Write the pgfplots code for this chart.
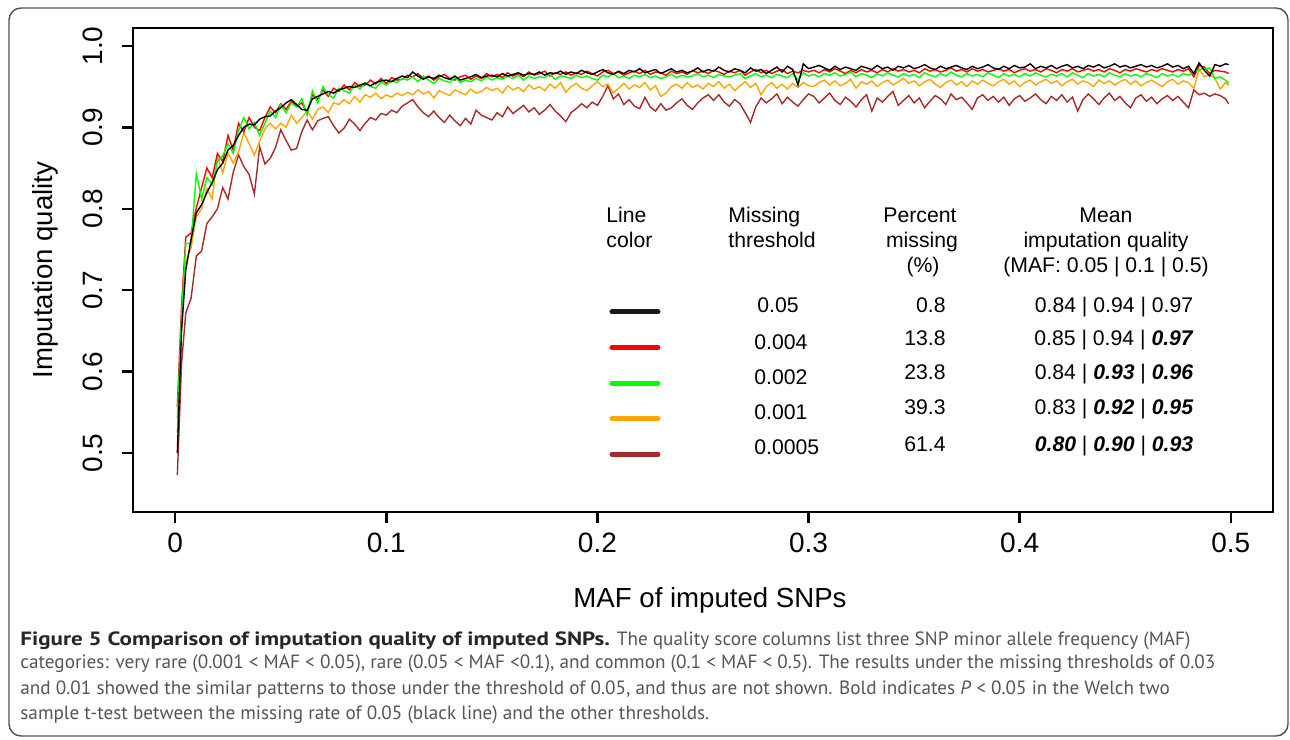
\documentclass[border=0pt]{standalone}
\usepackage{pgfplots}
\pgfplotsset{compat=1.18}
\usepackage{pgfplotstable}
\usepackage{fontspec}
\setmainfont{Liberation Sans}
\newfontfamily\capfont{PT Sans}
\newfontfamily\capbf[FakeStretch=1.2]{PT Sans}

\definecolor{Rred}{RGB}{255,0,0}
\definecolor{Rgreen}{RGB}{0,255,0}
\definecolor{Rorange}{RGB}{255,165,0}
\definecolor{Rbrown}{RGB}{165,42,42}
\definecolor{capgray}{RGB}{85,85,85}
\definecolor{framegray}{RGB}{80,80,80}

% imputation quality by MAF, one column per missing threshold
% B = 0.05, R = 0.004, G = 0.002, O = 0.001, Br = 0.0005
\pgfplotstableread{
x      B     R     G     O     Br
0.001  0.500 0.557 0.543 0.525 0.473
0.003  0.650 0.680 0.668 0.655 0.610
0.005  0.725 0.765 0.757 0.735 0.672
0.0075 0.762 0.770 0.758 0.752 0.690
0.010  0.795 0.801 0.843 0.790 0.742
0.0125 0.805 0.826 0.812 0.800 0.748
0.015  0.820 0.850 0.838 0.825 0.782
0.0175 0.832 0.838 0.830 0.812 0.790
0.020  0.848 0.868 0.858 0.864 0.800
0.0225 0.856 0.858 0.865 0.844 0.826
0.025  0.872 0.890 0.880 0.868 0.812
0.0275 0.878 0.872 0.868 0.856 0.845
0.030  0.890 0.905 0.896 0.870 0.866
0.0325 0.900 0.894 0.912 0.893 0.852
0.035  0.904 0.912 0.898 0.880 0.842
0.0375 0.903 0.900 0.906 0.866 0.818
0.040  0.910 0.896 0.890 0.883 0.876
0.0425 0.913 0.912 0.905 0.898 0.855
0.045  0.914 0.925 0.920 0.905 0.862
0.0475 0.920 0.918 0.912 0.898 0.875
0.050  0.924 0.929 0.928 0.905 0.897
0.0525 0.930 0.922 0.918 0.900 0.884
0.055  0.934 0.932 0.930 0.915 0.872
0.0575 0.928 0.926 0.925 0.905 0.874
0.060  0.922 0.930 0.935 0.912 0.895
0.0625 0.921 0.917 0.915 0.920 0.909
0.065  0.935 0.940 0.945 0.910 0.897
0.0675 0.938 0.934 0.930 0.922 0.908
0.070  0.941 0.946 0.950 0.925 0.911
0.0725 0.944 0.938 0.940 0.918 0.913
0.075  0.942 0.948 0.936 0.930 0.902
0.0775 0.946 0.944 0.948 0.928 0.893
0.080  0.948 0.952 0.945 0.934 0.899
0.0825 0.950 0.946 0.942 0.929 0.910
0.085  0.949 0.955 0.952 0.938 0.904
0.0875 0.952 0.950 0.947 0.931 0.896
0.090  0.954 0.952 0.955 0.940 0.905
0.0925 0.951 0.958 0.950 0.937 0.912
0.095  0.955 0.953 0.948 0.942 0.909
0.0975 0.957 0.960 0.956 0.935 0.917
0.100  0.958 0.954 0.952 0.940 0.915
0.1025 0.956 0.961 0.957 0.937 0.921
0.105  0.960 0.958 0.955 0.942 0.918
0.1075 0.963 0.959 0.960 0.939 0.926
0.110  0.961 0.964 0.958 0.943 0.930
0.1125 0.968 0.962 0.962 0.940 0.934
0.115  0.963 0.966 0.956 0.946 0.925
0.1175 0.959 0.960 0.963 0.941 0.918
0.120  0.962 0.963 0.958 0.944 0.913
0.1225 0.960 0.958 0.954 0.936 0.920
0.125  0.964 0.962 0.960 0.945 0.912
0.1275 0.961 0.965 0.957 0.942 0.906
0.130  0.959 0.960 0.955 0.939 0.915
0.1325 0.963 0.958 0.961 0.946 0.908
0.135  0.958 0.962 0.955 0.943 0.902
0.1375 0.960 0.964 0.958 0.940 0.911
0.140  0.962 0.959 0.956 0.947 0.904
0.1425 0.965 0.963 0.960 0.942 0.921
0.145  0.961 0.960 0.957 0.944 0.915
0.1475 0.963 0.966 0.962 0.949 0.912
0.150  0.964 0.962 0.958 0.945 0.909
0.1525 0.962 0.965 0.961 0.948 0.918
0.155  0.966 0.961 0.959 0.942 0.913
0.1575 0.963 0.967 0.963 0.951 0.925
0.160  0.965 0.963 0.960 0.946 0.917
0.1625 0.967 0.966 0.964 0.949 0.922
0.165  0.964 0.962 0.958 0.944 0.927
0.1675 0.966 0.968 0.963 0.952 0.919
0.170  0.965 0.964 0.960 0.947 0.924
0.1725 0.968 0.966 0.962 0.950 0.916
0.175  0.964 0.969 0.961 0.945 0.921
0.1775 0.967 0.963 0.965 0.953 0.928
0.180  0.966 0.967 0.959 0.948 0.920
0.1825 0.969 0.965 0.963 0.955 0.914
0.185  0.965 0.968 0.962 0.943 0.907
0.1875 0.968 0.964 0.960 0.950 0.918
0.190  0.966 0.967 0.964 0.954 0.923
0.1925 0.970 0.965 0.961 0.948 0.929
0.195  0.967 0.969 0.963 0.945 0.924
0.1975 0.965 0.966 0.960 0.951 0.931
0.200  0.968 0.963 0.958 0.956 0.927
0.2025 0.971 0.968 0.964 0.950 0.938
0.205  0.967 0.970 0.962 0.953 0.951
0.2075 0.965 0.966 0.966 0.942 0.935
0.210  0.969 0.968 0.961 0.948 0.941
0.2125 0.966 0.964 0.963 0.954 0.928
0.215  0.970 0.967 0.960 0.947 0.934
0.2175 0.968 0.969 0.964 0.952 0.926
0.220  0.972 0.966 0.962 0.949 0.923
0.2225 0.967 0.970 0.965 0.955 0.937
0.225  0.969 0.965 0.961 0.946 0.925
0.2275 0.971 0.968 0.963 0.951 0.920
0.230  0.966 0.967 0.960 0.938 0.929
0.2325 0.969 0.964 0.962 0.942 0.921
0.235  0.972 0.969 0.965 0.950 0.924
0.2375 0.968 0.966 0.961 0.953 0.930
0.240  0.970 0.968 0.964 0.948 0.935
0.2425 0.967 0.965 0.962 0.955 0.927
0.245  0.969 0.970 0.963 0.949 0.922
0.2475 0.973 0.967 0.966 0.952 0.930
0.250  0.968 0.969 0.962 0.947 0.936
0.2525 0.971 0.966 0.964 0.954 0.940
0.255  0.969 0.970 0.961 0.950 0.933
0.2575 0.974 0.968 0.965 0.956 0.940
0.260  0.970 0.965 0.963 0.948 0.931
0.2625 0.968 0.969 0.962 0.953 0.926
0.265  0.972 0.967 0.964 0.945 0.934
0.2675 0.970 0.970 0.966 0.951 0.929
0.270  0.967 0.964 0.960 0.956 0.918
0.2725 0.973 0.968 0.963 0.949 0.906
0.275  0.969 0.971 0.966 0.954 0.925
0.2775 0.971 0.967 0.962 0.940 0.936
0.280  0.966 0.970 0.964 0.950 0.930
0.2825 0.970 0.966 0.961 0.955 0.935
0.285  0.974 0.969 0.965 0.948 0.941
0.2875 0.968 0.971 0.963 0.953 0.929
0.290  0.975 0.966 0.961 0.947 0.937
0.2925 0.971 0.969 0.966 0.954 0.931
0.295  0.952 0.967 0.958 0.949 0.926
0.2975 0.978 0.970 0.967 0.955 0.934
0.300  0.972 0.968 0.963 0.951 0.941
0.3025 0.974 0.970 0.965 0.950 0.938
0.305  0.976 0.967 0.962 0.955 0.930
0.3075 0.973 0.971 0.966 0.958 0.936
0.310  0.970 0.968 0.964 0.952 0.942
0.3125 0.975 0.972 0.967 0.957 0.933
0.315  0.971 0.969 0.963 0.951 0.928
0.3175 0.974 0.966 0.965 0.954 0.937
0.320  0.972 0.970 0.968 0.959 0.932
0.3225 0.970 0.967 0.962 0.948 0.925
0.325  0.975 0.971 0.966 0.956 0.934
0.3275 0.973 0.968 0.964 0.953 0.940
0.330  0.971 0.970 0.961 0.957 0.920
0.3325 0.976 0.967 0.966 0.950 0.936
0.335  0.972 0.971 0.963 0.955 0.931
0.3375 0.974 0.968 0.967 0.958 0.938
0.340  0.970 0.972 0.964 0.952 0.944
0.3425 0.975 0.969 0.962 0.956 0.927
0.345  0.973 0.971 0.966 0.960 0.933
0.3475 0.976 0.968 0.963 0.954 0.939
0.350  0.972 0.970 0.965 0.957 0.930
0.3525 0.974 0.967 0.961 0.951 0.936
0.355  0.977 0.972 0.967 0.956 0.924
0.3575 0.973 0.969 0.964 0.959 0.932
0.360  0.971 0.971 0.962 0.953 0.939
0.3625 0.975 0.968 0.966 0.949 0.935
0.365  0.972 0.970 0.963 0.955 0.928
0.3675 0.974 0.973 0.968 0.958 0.941
0.370  0.976 0.969 0.964 0.952 0.934
0.3725 0.973 0.971 0.962 0.956 0.937
0.375  0.971 0.968 0.966 0.950 0.930
0.3775 0.975 0.972 0.963 0.957 0.922
0.380  0.972 0.969 0.965 0.953 0.936
0.3825 0.974 0.971 0.962 0.958 0.940
0.385  0.977 0.968 0.967 0.954 0.933
0.3875 0.973 0.970 0.964 0.951 0.938
0.390  0.971 0.972 0.961 0.956 0.931
0.3925 0.975 0.969 0.966 0.959 0.937
0.395  0.972 0.971 0.963 0.953 0.927
0.3975 0.976 0.967 0.965 0.957 0.935
0.400  0.973 0.970 0.962 0.950 0.939
0.4025 0.974 0.972 0.966 0.955 0.932
0.405  0.978 0.969 0.963 0.958 0.936
0.4075 0.972 0.971 0.967 0.952 0.941
0.410  0.975 0.968 0.964 0.956 0.934
0.4125 0.973 0.972 0.962 0.959 0.929
0.415  0.976 0.970 0.965 0.954 0.938
0.4175 0.972 0.967 0.963 0.957 0.933
0.420  0.975 0.971 0.966 0.951 0.940
0.4225 0.977 0.969 0.962 0.956 0.931
0.425  0.973 0.972 0.967 0.959 0.937
0.4275 0.975 0.968 0.964 0.953 0.920
0.430  0.972 0.970 0.961 0.957 0.934
0.4325 0.976 0.972 0.966 0.955 0.941
0.435  0.974 0.969 0.963 0.950 0.935
0.4375 0.977 0.971 0.965 0.958 0.928
0.440  0.973 0.968 0.962 0.954 0.936
0.4425 0.975 0.972 0.967 0.957 0.942
0.445  0.978 0.970 0.964 0.952 0.933
0.4475 0.974 0.967 0.962 0.956 0.938
0.450  0.976 0.971 0.966 0.959 0.930
0.4525 0.973 0.969 0.963 0.953 0.924
0.455  0.975 0.972 0.965 0.957 0.936
0.4575 0.977 0.970 0.962 0.951 0.940
0.460  0.974 0.968 0.966 0.955 0.932
0.4625 0.976 0.971 0.964 0.958 0.937
0.465  0.973 0.969 0.961 0.954 0.929
0.4675 0.975 0.972 0.966 0.950 0.935
0.470  0.978 0.970 0.963 0.956 0.939
0.4725 0.974 0.968 0.965 0.959 0.933
0.475  0.976 0.971 0.962 0.953 0.938
0.4775 0.972 0.969 0.966 0.957 0.931
0.480  0.975 0.972 0.964 0.955 0.924
0.4825 0.966 0.962 0.968 0.948 0.946
0.485  0.979 0.976 0.971 0.971 0.940
0.4875 0.970 0.974 0.972 0.962 0.942
0.490  0.963 0.966 0.973 0.965 0.938
0.4925 0.977 0.970 0.960 0.960 0.941
0.495  0.975 0.969 0.962 0.947 0.939
0.4975 0.978 0.968 0.958 0.955 0.935
0.499  0.977 0.966 0.954 0.951 0.929
}\imputation

\begin{document}
\begin{tikzpicture}
% page size (1 px of the reference = 0.5pt)
\path (0pt,0pt) rectangle (645pt,369.5pt);
% caption frame
\draw[framegray, line width=0.7pt, rounded corners=6pt] (4.5pt,1.5pt) rectangle (644pt,365.5pt);

\begin{axis}[
    at={(66.5pt,113.5pt)}, anchor=south west,
    width=570pt, height=242pt, scale only axis,
    xmin=-0.02, xmax=0.52, ymin=0.4275, ymax=1.022,
    xtick={0,0.1,0.2,0.3,0.4,0.5},
    xticklabels={0,0.1,0.2,0.3,0.4,0.5},
    ytick={0.5,0.6,0.7,0.8,0.9,1.0},
    yticklabels={0.5,0.6,0.7,0.8,0.9,1.0},
    tick align=outside, tick pos=left,
    major tick length=5.5pt,
    axis line style={line width=1.2pt},
    every tick/.style={black, line width=1.2pt},
    /pgf/number format/assume math mode=true,
    ticklabel style={font=\fontsize{14}{16}\selectfont},
    xticklabel style={anchor=base}, xticklabel shift=15pt,
    yticklabel style={rotate=90, anchor=base}, yticklabel shift=9.5pt,
    legend image code/.code={\draw (0pt,0pt) -- (23pt,0pt);},
    legend style={draw=none, fill=none, inner sep=0pt, outer sep=0pt,
        row sep=0pt, at={(axis cs:0.2057,0.6951)}, anchor=north west,
        nodes={inner sep=0pt, minimum height=17.8pt}},
    clip=true,
]
\addplot[Rbrown, line width=0.7pt, forget plot] table[x=x, y=Br] {\imputation};
\addplot[Rorange, line width=0.7pt, forget plot] table[x=x, y=O] {\imputation};
\addplot[Rred, line width=0.7pt, forget plot] table[x=x, y=R] {\imputation};
\addplot[Rgreen, line width=0.7pt, forget plot] table[x=x, y=G] {\imputation};
\addplot[black, line width=0.7pt, forget plot] table[x=x, y=B] {\imputation};

\addlegendimage{black!90, line width=2.5pt, line cap=round}
\addlegendentry{\mbox{}}
\addlegendimage{Rred, line width=2.5pt, line cap=round}
\addlegendentry{\mbox{}}
\addlegendimage{Rgreen, line width=2.5pt, line cap=round}
\addlegendentry{\mbox{}}
\addlegendimage{Rorange, line width=2.5pt, line cap=round}
\addlegendentry{\mbox{}}
\addlegendimage{Rbrown, line width=2.5pt, line cap=round}
\addlegendentry{\mbox{}}
\end{axis}

% axis titles
\node[anchor=base, font=\fontsize{13.8}{16}\selectfont] at (355pt,65.5pt) {MAF of imputed SNPs};
\node[anchor=base, rotate=90, font=\fontsize{13.8}{16}\selectfont] at (26pt,234.5pt) {Imputation quality};

% table inside the plot
\begin{scope}[every node/.style={font=\fontsize{10.6}{12}\selectfont, inner sep=0pt}]
\node[anchor=base west] at (303pt,258pt) {Line};
\node[anchor=base west] at (303pt,245.5pt) {color};
\node[anchor=base west] at (364pt,258pt) {Missing};
\node[anchor=base west] at (364pt,245.5pt) {threshold};
\node[anchor=base] at (460pt,258pt) {Percent};
\node[anchor=base] at (461pt,245.5pt) {missing};
\node[anchor=base] at (461.5pt,233pt) {(\%)};
\node[anchor=base] at (553pt,258pt) {Mean};
\node[anchor=base] at (553pt,245.5pt) {imputation quality};
\node[anchor=base] at (553pt,233pt) {(MAF: 0.05 | 0.1 | 0.5)};

\node[anchor=base west] at (378.5pt,213pt) {0.05};
\node[anchor=base west] at (377pt,194.5pt) {0.004};
\node[anchor=base west] at (377pt,177pt) {0.002};
\node[anchor=base west] at (377pt,159.5pt) {0.001};
\node[anchor=base west] at (377pt,142pt) {0.0005};

\node[anchor=base east] at (473pt,213pt) {0.8};
\node[anchor=base east] at (473pt,196.5pt) {13.8};
\node[anchor=base east] at (473pt,179.5pt) {23.8};
\node[anchor=base east] at (473pt,162pt) {39.3};
\node[anchor=base east] at (473pt,143.5pt) {61.4};

\node[anchor=base] at (557pt,213pt) {0.84 | 0.94 | 0.97};
\node[anchor=base] at (557pt,196.5pt) {0.85 | 0.94 | \textbf{\textit{0.97}}};
\node[anchor=base] at (557pt,179.5pt) {0.84 | \textbf{\textit{0.93}} | \textbf{\textit{0.96}}};
\node[anchor=base] at (557pt,162pt) {0.83 | \textbf{\textit{0.92}} | \textbf{\textit{0.95}}};
\node[anchor=base] at (557pt,143.5pt) {\textbf{\textit{0.80}} | \textbf{\textit{0.90}} | \textbf{\textit{0.93}}};
\end{scope}

% figure caption
\begin{scope}[every node/.style={anchor=base west, inner sep=0pt, text=capgray,
    font=\capfont\fontsize{9.6}{12}\selectfont}]
\node at (10pt,47pt) {{\capbf\bfseries\color{black!85}Figure 5 Comparison of imputation quality of imputed SNPs.} The quality score columns list three SNP minor allele frequency (MAF)};
\node at (10pt,35pt) {categories: very rare (0.001 < MAF < 0.05), rare (0.05 < MAF <0.1), and common (0.1 < MAF < 0.5). The results under the missing thresholds of 0.03};
\node at (10pt,22.5pt) {and 0.01 showed the similar patterns to those under the threshold of 0.05, and thus are not shown. Bold indicates \textit{P} < 0.05 in the Welch two};
\node at (10pt,10pt) {sample t-test between the missing rate of 0.05 (black line) and the other thresholds.};
\end{scope}
\end{tikzpicture}
\end{document}
